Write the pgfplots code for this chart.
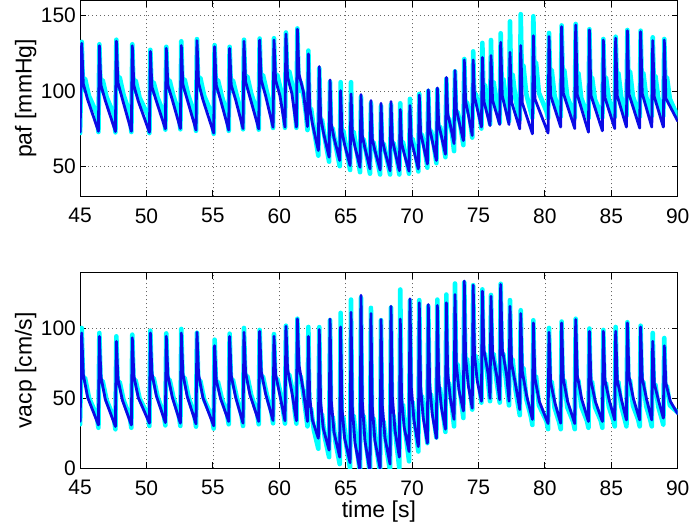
\documentclass[border=0pt]{standalone}
\usepackage{pgfplots}
\pgfplotsset{compat=1.18}
\usepackage{fontspec}
\setmainfont{Liberation Sans}
\definecolor{mcyan}{RGB}{0,255,255}
\definecolor{mblue}{RGB}{10,10,230}
\pgfplotsset{
 mstyle/.style={
  scale only axis, width=597.6pt, height=195.7pt,
  xmin=45, xmax=90, xtick={45,50,...,90},
  grid=major, major grid style={black!60, dash pattern=on 0.8pt off 3.2pt, line width=0.6pt},
  axis line style={line width=0.8pt},
  tick align=inside, major tick length=6pt, tick style={black, line width=0.8pt},
  ticklabel style={font=\fontsize{21}{21}\selectfont, inner sep=0pt},
  xticklabel style={yshift=-12pt},
  yticklabel style={xshift=-4pt},
  /pgf/number format/assume math mode=true,
  label style={font=\fontsize{23}{23}\selectfont},
  ylabel shift=1pt,
 },
 cy/.style={mcyan, line width=4.6pt, line join=round, line cap=round},
 bl/.style={mblue, line width=2.8pt, line join=round, line cap=round},
}
\begin{document}
\begin{tikzpicture}
\path[use as bounding box] (0,0) rectangle (689pt,526pt);
\begin{axis}[mstyle, at={(80.1pt,329.7pt)}, anchor=south west, ymin=30, ymax=160, ytick={50,100,150}, ylabel={paf [mmHg]}]
\addplot[cy] coordinates {
(45.00,72)(45.12,132.6)(45.22,100.6)(45.37,108.2)(45.67,96.6)(46.26,84.9)
(46.38,72.7)(46.45,131)(46.55,99.8)(46.70,107.2)(47.00,95.8)(47.54,84.4)
(47.66,72.5)(47.73,134)(47.83,101.3)(47.98,109.1)(48.28,97.1)(48.74,85.2)
(48.86,72.7)(48.93,131)(49.03,99.5)(49.18,107)(49.48,95.5)(50.10,84)
(50.22,72)(50.29,127.3)(50.39,99)(50.54,105.7)(50.84,95.4)(51.30,85.1)
(51.42,74.3)(51.49,129.3)(51.59,100)(51.74,107)(52.04,96.3)(52.43,85.7)
(52.55,74.5)(52.62,133)(52.72,100.4)(52.87,107.7)(53.17,96.4)(53.61,85.2)
(53.73,73.5)(53.80,134.4)(53.90,100.9)(54.05,108.8)(54.35,96.6)(54.94,84.3)
(55.06,71.5)(55.13,130.4)(55.23,100)(55.38,107.2)(55.68,96.2)(56.07,85.1)
(56.19,73.5)(56.26,129.3)(56.36,100)(56.51,107)(56.81,96.3)(57.15,85.7)
(57.27,74.5)(57.34,134)(57.44,102.2)(57.59,109.7)(57.89,98.1)(58.33,86.4)
(58.45,74.3)(58.52,134.8)(58.62,103.1)(58.77,110.6)(59.07,99.1)(59.41,87.5)
(59.53,75.4)(59.60,135)(59.70,103.2)(59.85,110.7)(60.15,99.1)(60.31,87.6)
(60.43,75.5)(60.50,138.8)(60.60,105)(60.75,113.1)(61.05,100.7)(61.17,88.4)
(61.29,75.5)(61.36,141.5)(61.46,100)(61.61,106)(61.86,95)(62.02,84)
(62.12,74)(62.19,126.8)(62.27,84.9)(62.39,88.4)(62.61,74.5)
(62.94,57)(63.01,115)(63.09,77.8)(63.21,80.9)(63.43,68.5)
(63.75,53)(63.82,106)(63.90,72.4)(64.02,75.2)(64.24,64)
(64.55,50)(64.62,105.8)(64.70,70.8)(64.82,73.7)(65.04,62.1)
(65.33,47.5)(65.40,105.8)(65.48,69.9)(65.60,72.9)(65.82,61)
(66.08,46)(66.15,96)(66.23,65.4)(66.35,68)(66.57,57.8)
(66.83,45)(66.90,92)(66.98,63.5)(67.10,65.9)(67.32,56.4)
(67.59,44.5)(67.66,90)(67.74,62.7)(67.86,65)(68.08,55.9)
(68.34,44.5)(68.41,91)(68.49,63.1)(68.61,65.4)(68.83,56.1)
(69.04,44.5)(69.11,91.8)(69.19,63.7)(69.31,66.1)(69.53,56.7)
(69.77,45)(69.84,94.7)(69.92,65.8)(70.04,68.2)(70.26,58.6)
(70.47,46.5)(70.54,98)(70.62,68.6)(70.74,71.1)(70.96,61.3)
(71.15,49)(71.22,100)(71.30,71.2)(71.42,73.6)(71.64,64)
(71.83,52)(71.90,101)(71.98,74)(72.10,76.3)(72.32,67.3)
(72.51,56)(72.58,108)(72.66,79.2)(72.78,81.6)(73.00,72)
(73.16,60)(73.23,113)(73.31,83.6)(73.43,86.1)(73.65,76.3)
(73.86,64)(73.93,121.2)(74.01,89.9)(74.13,92.5)(74.35,82.1)
(74.53,69)(74.60,126.3)(74.68,95.5)(74.80,98.1)(75.02,87.8)
(75.22,75)(75.29,131.9)(75.37,99)(75.49,104)(75.71,89.7)
(75.87,78)(75.94,133.8)(76.02,101)(76.14,106)(76.36,91.2)
(76.60,79)(76.67,138.3)(76.75,103)(76.87,108)(77.09,92.6)
(77.30,80)(77.37,146.2)(77.45,106)(77.57,111)(77.79,94.5)
(78.11,81)(78.18,151)(78.26,112)(78.38,117)(78.60,97.8)(78.94,86.2)
(79.06,82)(79.13,149.6)(79.21,114)(79.33,119)(79.55,98.7)(80.12,86.4)
(80.24,82)(80.31,138.5)(80.39,109)(80.51,114)(80.73,96.7)(81.07,86.3)
(81.19,82.5)(81.26,143.5)(81.34,109)(81.46,114)(81.68,96.4)(82.13,85.8)
(82.25,82)(82.32,144.5)(82.40,107)(82.52,112)(82.74,95.2)(83.16,85.2)
(83.28,81.5)(83.35,141)(83.43,104)(83.55,109)(83.77,94.2)(84.21,85.2)
(84.33,82)(84.40,134.5)(84.48,104)(84.60,109)(84.82,94.4)(85.14,85.7)
(85.26,82.5)(85.33,136)(85.41,107)(85.53,112)(85.75,96)(86.02,86.5)
(86.14,83)(86.21,140.5)(86.29,108)(86.41,113)(86.63,96.2)(87.02,86.2)
(87.14,82.5)(87.21,140)(87.29,107)(87.41,112)(87.63,96)(87.93,86.5)
(88.05,83)(88.12,135.6)(88.20,105)(88.32,110)(88.54,95.2)(88.80,86.2)
(88.92,83)(88.99,134.5)(89.07,104)(89.19,109)(89.41,94.7)(90.00,83)
};
\addplot[bl] coordinates {
(45.00,72.6)(45.12,131.6)(45.24,104.7)(45.57,94.2)
(46.38,73.2)(46.45,130)(46.57,103.8)(46.90,93.5)
(47.66,73)(47.73,133)(47.85,105.5)(48.18,94.7)
(48.86,73.2)(48.93,130)(49.05,103.5)(49.38,93.2)
(50.22,72.5)(50.29,126.3)(50.41,102.6)(50.74,93.3)
(51.42,74.8)(51.49,128.3)(51.61,103.8)(51.94,94.2)
(52.55,75)(52.62,130.1)(52.74,104.3)(53.07,94.2)
(53.73,74)(53.80,133.4)(53.92,105.2)(54.25,94.1)
(55.06,72)(55.13,129.4)(55.25,103.9)(55.58,93.9)
(56.19,74)(56.26,128.3)(56.38,103.8)(56.71,94.2)
(57.27,75)(57.34,133)(57.46,106.2)(57.79,95.8)
(58.45,74.8)(58.52,133.8)(58.64,107.2)(58.97,96.7)
(59.53,75.9)(59.60,133.8)(59.72,107.2)(60.05,96.8)
(60.43,76)(60.50,137.8)(60.62,109.4)(60.95,98.2)
(61.29,76)(61.36,141)(61.48,111.2)(61.81,99.6)
(62.12,76.3)(62.19,124.6)(62.29,89.3)(62.49,78.4)
(62.94,60.4)(63.01,116.2)(63.11,83.1)(63.31,72.9)
(63.75,56)(63.82,107.3)(63.92,77.9)(64.12,68.8)
(64.55,53.8)(64.62,100.2)(64.72,72.8)(64.92,64.3)
(65.33,50.4)(65.40,98)(65.50,71.2)(65.70,62.9)
(66.08,49.3)(66.15,97.6)(66.25,70.4)(66.45,62)
(66.83,48.2)(66.90,93.6)(67.00,68.2)(67.20,60.4)
(67.59,47.5)(67.66,91.8)(67.76,67.2)(67.96,59.5)
(68.34,47)(68.41,92.9)(68.51,67.7)(68.71,59.9)
(69.04,47)(69.11,87.6)(69.21,65.1)(69.41,58.2)
(69.77,46.7)(69.84,90.3)(69.94,67.1)(70.14,60)
(70.47,48.2)(70.54,97.3)(70.64,72.1)(70.84,64.3)
(71.15,51.5)(71.22,100.7)(71.32,74.9)(71.52,66.9)
(71.83,53.8)(71.90,102)(72.00,77.8)(72.20,70.3)
(72.51,58)(72.58,109)(72.68,84.8)(72.88,77.3)
(73.16,65)(73.23,113.5)(73.33,87.9)(73.53,80)
(73.86,67)(73.93,120.6)(74.03,93)(74.23,84.5)
(74.53,70.4)(74.60,120.6)(74.70,96.1)(74.90,88.5)
(75.22,76)(75.29,122.3)(75.41,92.9)
(75.87,77)(75.94,123.5)(76.06,93.7)
(76.60,77.7)(76.67,132.3)(76.79,96.8)
(77.30,77.7)(77.37,125.7)(77.49,92.6)
(78.11,74.8)(78.18,130.1)(78.30,92)
(79.06,71.5)(79.13,136.7)(79.25,94.6)
(80.24,72)(80.31,136.1)(80.43,97)
(81.19,76)(81.26,142.7)(81.38,98.7)
(82.25,75)(82.32,143.8)(82.44,97.5)
(83.28,72.6)(83.35,140.5)(83.47,97)
(84.33,73.5)(84.40,133.8)(84.52,95.6)
(85.26,75)(85.33,135)(85.45,96.7)
(86.14,76)(86.21,140)(86.33,97.9)
(87.14,75.3)(87.21,139.4)(87.33,98.2)
(88.05,76)(88.12,133.4)(88.24,96.1)
(88.92,76)(88.99,133.8)(89.11,95)(90.00,80)
};
\end{axis}
\begin{axis}[mstyle, at={(80.1pt,57.7pt)}, anchor=south west, ymin=0, ymax=140, ytick={0,50,100}, ylabel={vacp [cm/s]}, xlabel={time [s]}, xlabel style={inner sep=0pt}, xlabel shift=5.5pt]
\addplot[cy] coordinates {
(45.00,31.5)(45.12,100.4)(45.22,62.6)(45.37,64.7)(45.67,50.4)(46.26,37.6)
(46.38,29)(46.45,96.8)(46.55,60.3)(46.70,62.4)(47.00,48.6)(47.54,36.2)
(47.66,27.9)(47.73,94.4)(47.83,59.7)(47.98,61.7)(48.28,48.6)(48.74,36.8)
(48.86,29)(48.93,95.6)(49.03,61)(49.18,63)(49.48,49.9)(50.10,38.1)
(50.22,30.3)(50.29,98.5)(50.39,62.6)(50.54,64.6)(50.84,51)(51.30,38.8)
(51.42,30.7)(51.49,96.5)(51.59,61.4)(51.74,63.4)(52.04,50.2)(52.43,38.2)
(52.55,30.3)(52.62,99.7)(52.72,62.7)(52.87,64.8)(53.17,50.8)(53.61,38.2)
(53.73,29.8)(53.80,97)(53.90,60.6)(54.05,62.7)(54.35,49)(54.94,36.6)
(55.06,28.4)(55.13,92)(55.23,59.9)(55.38,61.8)(55.68,49.7)(56.07,38.8)
(56.19,31.5)(56.26,96.3)(56.36,61.3)(56.51,63.3)(56.81,50.1)(57.15,38.2)
(57.27,30.3)(57.34,100.4)(57.44,63.9)(57.59,66)(57.89,52.2)(58.33,39.8)
(58.45,31.5)(58.52,99)(58.62,63.6)(58.77,65.6)(59.07,52.2)(59.41,40.2)
(59.53,32.2)(59.60,96)(59.70,62.1)(59.85,64)(60.15,51.2)(60.31,39.7)
(60.43,32)(60.50,102)(60.60,64.9)(60.75,67)(61.05,53)(61.17,40.4)
(61.29,32)(61.36,107)(61.46,64)(61.61,66)(61.86,50)(62.02,38)
(62.12,30)(62.19,101.1)(62.27,40.1)(62.39,42.7)(62.61,27.1)
(62.94,14)(63.01,101)(63.09,35.9)(63.21,38.7)(63.43,22)
(63.75,8)(63.82,106)(63.90,33.9)(64.02,37)(64.24,18.5)
(64.55,3)(64.62,111.2)(64.70,33.4)(64.82,36.7)(65.04,16.7)
(65.33,0)(65.40,120.7)(65.48,34.1)(65.60,37.8)(65.82,15.6)
(66.08,-3)(66.15,122)(66.23,33.8)(66.35,37.6)(66.57,14.9)
(66.83,-4)(66.90,114.8)(66.98,32.3)(67.10,35.9)(67.32,14.7)
(67.59,-3)(67.66,106)(67.74,30.4)(67.86,33.6)(68.08,14.2)
(68.34,-2)(68.41,115)(68.49,34.5)(68.61,38)(68.83,17.3)
(69.04,0)(69.11,127.9)(69.19,41.9)(69.31,45.6)(69.53,23.4)
(69.77,5)(69.84,120)(69.92,44.4)(70.04,47.6)(70.26,28.2)
(70.47,12)(70.54,120.3)(70.62,48.7)(70.74,51.8)(70.96,33.3)
(71.15,18)(71.22,116)(71.30,50.2)(71.42,53)(71.64,36.1)
(71.83,22)(71.90,120.7)(71.98,54.4)(72.10,57.3)(72.32,40.2)
(72.51,26)(72.58,124.3)(72.66,58.3)(72.78,61.1)(73.00,44.1)
(73.16,30)(73.23,132.2)(73.31,70)(73.43,74.5)(73.65,52)
(73.86,36)(73.93,133)(74.01,74)(74.13,78.4)(74.35,58)
(74.53,42)(74.60,131)(74.68,76)(74.80,80.6)(75.02,62)
(75.22,47)(75.29,128)(75.37,78)(75.49,82)(75.71,63.3)
(75.87,48)(75.94,124)(76.02,78)(76.14,82)(76.36,62.8)
(76.60,47)(76.67,132)(76.75,78)(76.87,82)(77.09,61.7)
(77.30,45)(77.37,120.3)(77.45,74)(77.57,78)(77.79,56)
(78.11,38)(78.18,113.1)(78.26,68)(78.38,72)(78.60,49.5)(78.94,37.2)
(79.06,31)(79.13,105.9)(79.21,62)(79.33,66)(79.55,45.1)(80.12,33.7)
(80.24,28)(80.31,100.4)(80.39,58)(80.51,62)(80.73,43.3)(81.07,33.1)
(81.19,28)(81.26,105)(81.34,59)(81.46,63)(81.68,43.8)(82.13,33.3)
(82.25,28)(82.32,107)(82.40,59)(82.52,63)(82.74,44.3)(83.16,34.1)
(83.28,29)(83.35,100)(83.43,58)(83.55,62)(83.77,43.9)(84.21,34)
(84.33,29)(84.40,99)(84.48,57)(84.60,61)(84.82,43.9)(85.14,34.7)
(85.26,30)(85.33,101.1)(85.41,58)(85.53,62)(85.75,44.4)(86.02,34.8)
(86.14,30)(86.21,104.5)(86.29,59)(86.41,63)(86.63,44.9)(87.02,35)
(87.14,30)(87.21,102)(87.29,58)(87.41,62)(87.63,44.4)(87.93,34.8)
(88.05,30)(88.12,96.8)(88.20,56)(88.32,60)(88.54,44)(88.80,35.4)
(88.92,31)(88.99,93.2)(89.07,55)(89.19,59)(89.41,45)(90.00,40)
};
\addplot[bl] coordinates {
(45.00,33.5)(45.12,96.8)(45.24,67.2)(45.57,50.7)
(46.38,31)(46.45,94.4)(46.57,65.4)(46.90,49.3)
(47.66,29.9)(47.73,90.8)(47.85,63.9)(48.18,48.9)
(48.86,31)(48.93,93.3)(49.05,65.9)(49.38,50.6)
(50.22,32.3)(50.29,96.8)(50.41,68)(50.74,51.9)
(51.42,32.7)(51.49,94.4)(51.61,66.5)(51.94,50.9)
(52.55,32.3)(52.62,96.8)(52.74,67.6)(53.07,51.3)
(53.73,31.8)(53.80,97.3)(53.92,67.2)(54.25,50.5)
(55.06,30.4)(55.13,87.7)(55.25,63.3)(55.58,49.8)
(56.19,33.5)(56.26,94.4)(56.38,66.5)(56.71,50.9)
(57.27,32.3)(57.34,97.3)(57.46,68.6)(57.79,52.6)
(58.45,33.5)(58.52,98)(58.64,69.3)(58.97,53.3)
(59.53,34.2)(59.60,94.4)(59.72,67.2)(60.05,52.1)
(60.43,34)(60.50,101.6)(60.62,71.2)(60.95,54.3)
(61.29,34)(61.36,106.9)(61.48,73.9)(61.81,55.5)
(62.12,33.5)(62.19,94.4)(62.29,50.7)(62.49,34.6)
(62.94,21.5)(63.01,99.2)(63.11,47.5)(63.31,28.5)
(63.75,13)(63.82,106.8)(63.92,47.5)(64.12,25.8)
(64.55,8)(64.62,101.1)(64.72,42.8)(64.92,21.5)
(65.33,4)(65.40,111.6)(65.50,43.4)(65.70,18.4)
(66.08,-2)(66.15,123.8)(66.25,47.7)(66.45,19.8)
(66.83,-3)(66.90,110.7)(67.00,44.3)(67.20,19.9)
(67.59,0)(67.66,106.4)(67.76,44.4)(67.96,21.6)
(68.34,3)(68.41,115.9)(68.51,51.2)(68.71,27.4)
(69.04,8)(69.11,106.8)(69.21,49.9)(69.41,29.1)
(69.77,12)(69.84,121.2)(69.94,57.8)(70.14,34.5)
(70.47,15.5)(70.54,118.4)(70.64,58.2)(70.84,36.1)
(71.15,18)(71.22,117.2)(71.32,59.8)(71.52,38.7)
(71.83,21.5)(71.90,116.5)(72.00,63.4)(72.20,43.9)
(72.51,28)(72.58,118.4)(72.68,68.4)(72.88,50)
(73.16,35)(73.23,124.3)(73.33,74.3)(73.53,56)
(73.86,41)(73.93,133.9)(74.03,79.4)(74.23,59.4)
(74.53,43)(74.60,131)(74.70,81.2)(74.90,62.9)
(75.22,48)(75.29,126.7)(75.41,84.5)(75.74,66.9)
(75.87,50)(75.94,123.1)(76.06,82.3)(76.39,65.3)
(76.60,49)(76.67,131.5)(76.79,85.6)(77.12,66.4)
(77.30,48)(77.37,115.9)(77.49,75.3)(77.82,58.3)
(78.11,42)(78.18,110.7)(78.30,69.1)(78.63,51.7)
(79.06,35)(79.13,104)(79.25,64.4)(79.58,47.8)
(80.24,32)(80.31,97.3)(80.43,61.6)(80.76,46.6)
(81.19,32.3)(81.26,104)(81.38,64.4)(81.71,47.8)
(82.25,32)(82.32,106.4)(82.44,66.3)(82.77,49.5)
(83.28,33.5)(83.35,98)(83.47,62.5)(83.80,47.7)
(84.33,33.5)(84.40,98)(84.52,63.1)(84.85,48.5)
(85.26,34.6)(85.33,98)(85.45,63.1)(85.78,48.5)
(86.14,34.6)(86.21,104)(86.33,65.8)(86.66,49.9)
(87.14,34.6)(87.21,101.1)(87.33,64.5)(87.66,49.2)
(88.05,34.6)(88.12,90.8)(88.24,60.6)(88.57,48)
(88.92,35.9)(88.99,87.7)(89.11,61)(89.44,48)(90.00,39)
};
\end{axis}
\end{tikzpicture}
\end{document}
